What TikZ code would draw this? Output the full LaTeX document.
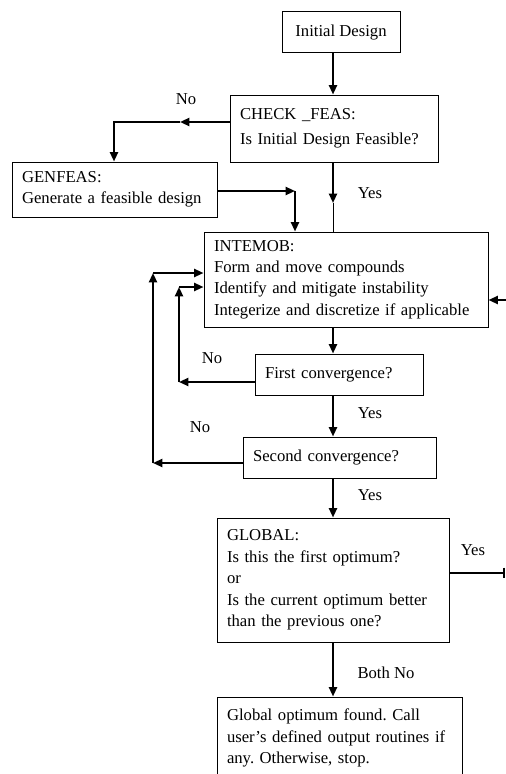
\documentclass[tikz,border=0pt]{standalone}
\usepackage{fontspec}
\setmainfont{Liberation Serif}
\usetikzlibrary{arrows.meta}
\frenchspacing
\newcommand{\figfont}{\fontsize{12.5}{16.1}\selectfont}
\tikzset{
  blk/.style={draw, line width=0.75pt, align=left, inner xsep=7.5pt, inner ysep=0pt, font=\figfont},
  lbl/.style={anchor=base, inner sep=0pt, font=\figfont},
  arr/.style={-{Triangle[length=7pt,width=6pt]}, line width=1.5pt},
  thinline/.style={line width=0.75pt}
}

\begin{document}
\begin{tikzpicture}[x=0.75pt, y=-0.75pt]
  \clip (0,0) rectangle (506,774);
  \coordinate (spine) at (333,0);
  % boxes
  \node[blk, align=center, minimum width=88.5pt, minimum height=30.75pt] (init) at (341,32.5) {Initial Design};
  \node[blk, text width=141pt, minimum height=50.25pt] (check) at (334,128.5) {CHECK \_FEAS:\\[2.5pt]Is Initial Design Feasible?};
  \node[blk, text width=138.75pt, minimum height=41.25pt] (genfeas) at (114.5,189.5) {GENFEAS:\\Generate a feasible design};
  \node[blk, text width=198pt, minimum height=71.25pt] (intemob) at (346,279.5) {INTEMOB:\\Form and move compounds\\Identify and mitigate instability\\Integerize and discretize if applicable};
  \node[blk, text width=111pt, minimum height=30.75pt] (conv1) at (339,374.5) {First convergence?};
  \node[blk, text width=129.75pt, minimum height=30.75pt] (conv2) at (339.5,457.5) {Second convergence?};
  \node[blk, text width=159pt, minimum height=93pt] (global) at (333,580) {GLOBAL:\\Is this the first optimum?\\or\\Is the current optimum better\\than the previous one?};
  \node[blk, text width=168.75pt, minimum height=61.5pt] (found) at (339.5,738) {Global optimum found. Call\\user's defined output routines if\\any. Otherwise, stop.};
  % feasibility check
  \draw[arr] (init.south -| spine) -- (check.north -| spine);
  \coordinate (noA) at (180,122);
  \coordinate (noB) at (114,122);
  \draw[arr] (check.west |- noA) -- (noA);
  \draw[arr] (noA) -- (noB) -- (genfeas.north -| noB);
  \coordinate (genA) at (295,191);
  \draw[arr] (genfeas.east |- genA) -- (genA);
  \draw[arr] (genA) -- (intemob.north -| genA);
  \coordinate (yesA) at (333,203);
  \draw[arr] (check.south -| spine) -- (yesA);
  \draw[thinline] (yesA) -- (intemob.north -| spine);
  \coordinate (rin) at (506,300);
  \draw[arr] (rin) -- (intemob.east |- rin);
  % convergence loops
  \draw[arr] (intemob.south -| spine) -- (conv1.north -| spine);
  \coordinate (loopA) at (179,382);
  \coordinate (loopB) at (179,287);
  \draw[arr] (conv1.west |- loopA) -- (loopA);
  \draw[arr] (loopA) -- (loopB);
  \draw[arr] (loopB) -- (intemob.west |- loopB);
  \draw[arr] (conv1.south -| spine) -- (conv2.north -| spine);
  \coordinate (loopC) at (153,463);
  \coordinate (loopD) at (153,273);
  \draw[arr] (conv2.west |- loopC) -- (loopC);
  \draw[arr] (loopC) -- (loopD);
  \draw[arr] (loopD) -- (intemob.west |- loopD);
  % global
  \draw[arr] (conv2.south -| spine) -- (global.north -| spine);
  \coordinate (rout) at (505,573);
  \draw[line width=1.5pt, -{Bar[width=8pt]}] (global.east |- rout) -- (rout);
  \draw[arr] (global.south -| spine) -- (found.north -| spine);
  % labels
  \node[lbl] (no1) at (186,104) {No};
  \node[lbl] (yes1) at (370,198) {Yes};
  \node[lbl] (no2) at (212,363) {No};
  \node[lbl] (yes2) at (370,418) {Yes};
  \node[lbl] (no3) at (200,432) {No};
  \node[lbl] (yes3) at (370,500) {Yes};
  \node[lbl] (yes4) at (473,555) {Yes};
  \node[lbl] (bothno) at (386,678) {Both No};
\end{tikzpicture}
\end{document}
